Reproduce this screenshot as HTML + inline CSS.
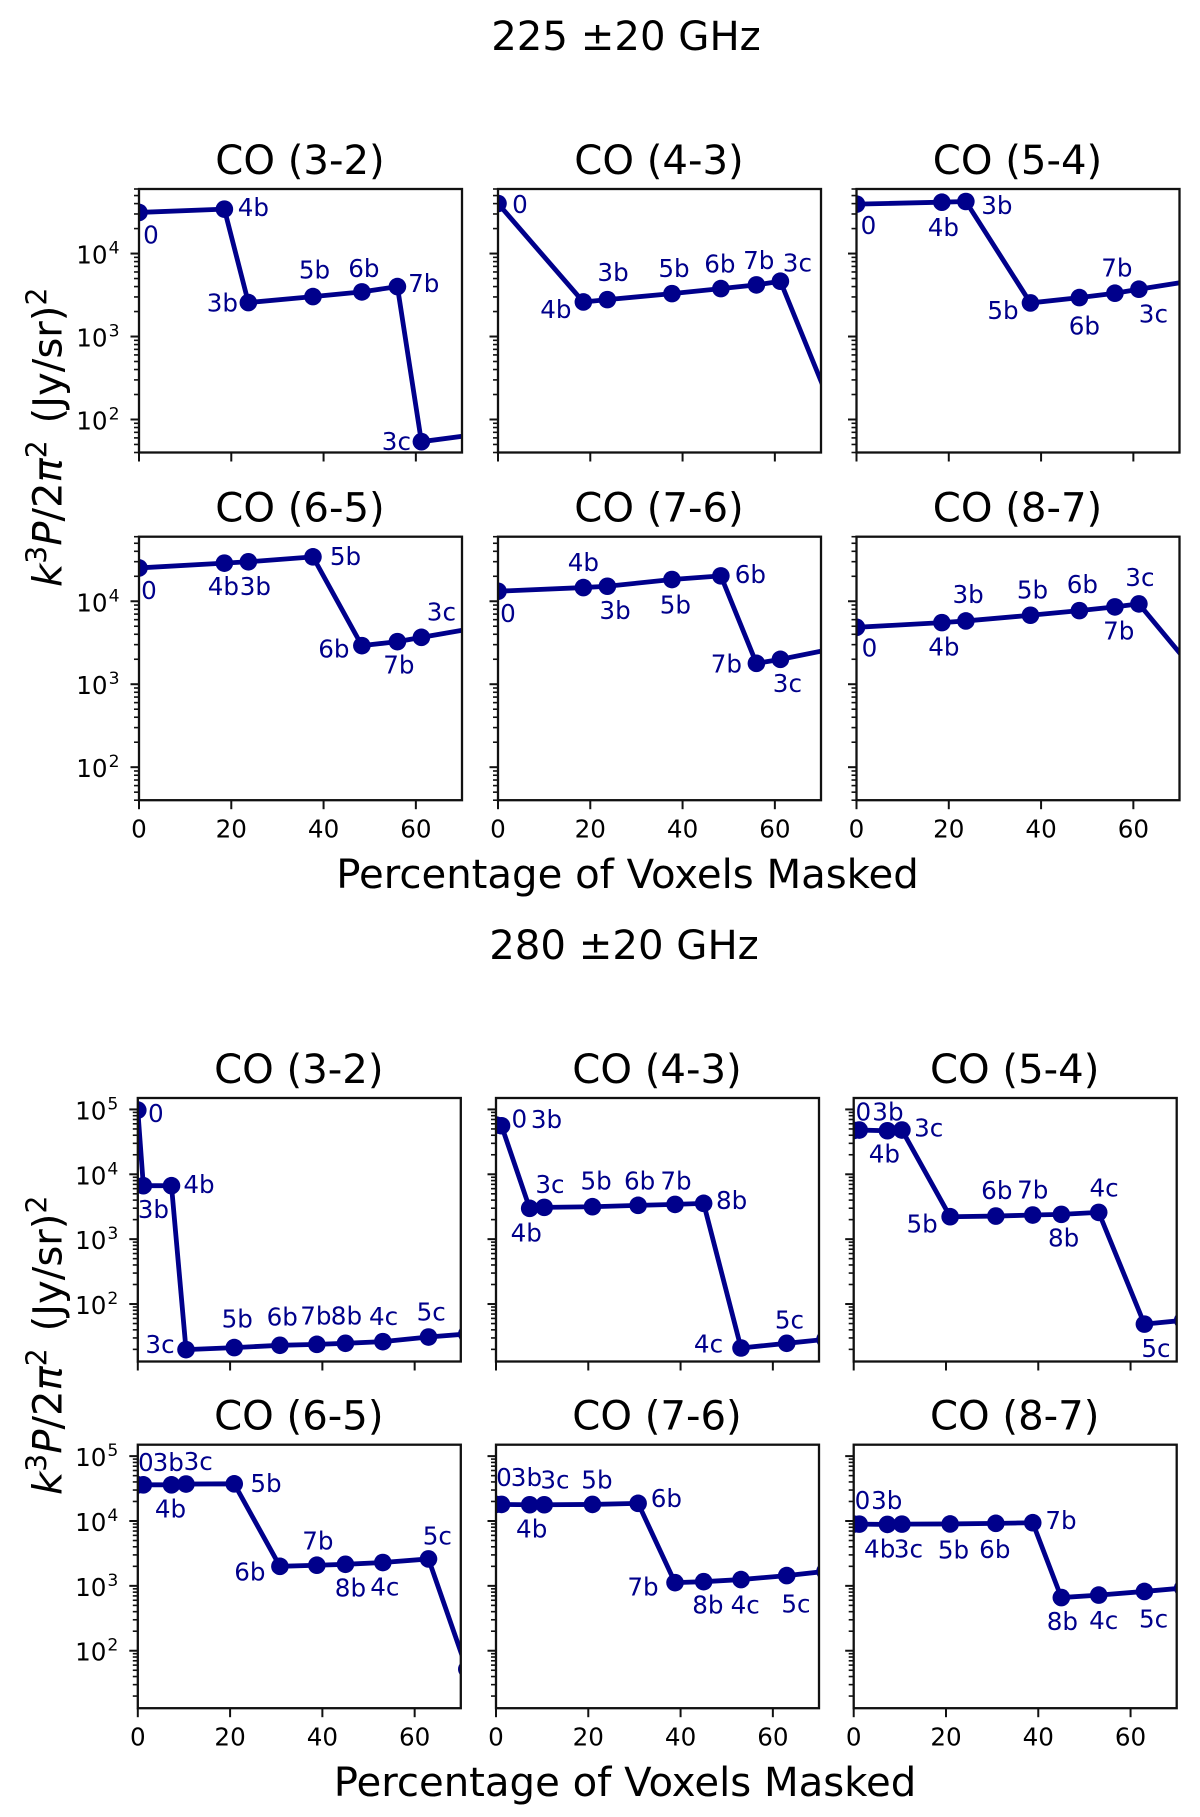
<!DOCTYPE html>
<html lang="en">
<head>
<meta charset="utf-8">
<title>CO line power spectra versus masked voxels</title>
<style>
html,body{margin:0;padding:0;background:#fff;}
svg{display:block;filter:blur(0.35px);}
text{font-family:"DejaVu Sans","Liberation Sans",sans-serif;}
</style>
</head>
<body>
<svg id="figure" xmlns="http://www.w3.org/2000/svg" width="1200" height="1817" viewBox="0 0 1200 1817">
<rect width="1200" height="1817" fill="#fff"/>
<text x="626" y="50" font-size="40.2" text-anchor="middle" fill="#000">225 ±20 GHz</text>
<text x="627.5" y="888" font-size="40.2" text-anchor="middle" fill="#000">Percentage of Voxels Masked</text>
<text transform="translate(61.5 587) rotate(-90)" font-size="40.2" fill="#000"><tspan font-style="italic">k</tspan><tspan font-size="28.2" dy="-15">3</tspan><tspan font-style="italic" dy="15">P</tspan><tspan>/2</tspan><tspan font-style="italic">π</tspan><tspan font-size="28.2" dy="-15">2</tspan><tspan dy="15" dx="4" xml:space="preserve"> (Jy/sr)</tspan><tspan font-size="28.2" dy="-15">2</tspan></text>
<text x="624" y="959" font-size="40.2" text-anchor="middle" fill="#000">280 ±20 GHz</text>
<text x="625" y="1796" font-size="40.2" text-anchor="middle" fill="#000">Percentage of Voxels Masked</text>
<text transform="translate(61.5 1495) rotate(-90)" font-size="40.2" fill="#000"><tspan font-style="italic">k</tspan><tspan font-size="28.2" dy="-15">3</tspan><tspan font-style="italic" dy="15">P</tspan><tspan>/2</tspan><tspan font-style="italic">π</tspan><tspan font-size="28.2" dy="-15">2</tspan><tspan dy="15" dx="4" xml:space="preserve"> (Jy/sr)</tspan><tspan font-size="28.2" dy="-15">2</tspan></text>
</svg>
<script>
// ---------- data ----------
const xTickValues = [0, 20, 40, 60];
const yDecades225 = [2, 3, 4];
const yDecades280 = [2, 3, 4, 5];

const labels225 = ['0', '4b', '3b', '5b', '6b', '7b', '3c'];
const percent225 = [0, 18.5, 23.7, 37.7, 48.3, 56, 61.2, 73];
const power225Co32 = [31300, 34300, 2565, 3030, 3450, 4000, 54, 66];
const power225Co43 = [40100, 2610, 2785, 3290, 3780, 4190, 4640, 113];
const power225Co54 = [39400, 41600, 42400, 2540, 2946, 3325, 3717, 4720];
const power225Co65 = [25200, 28800, 29900, 34300, 2917, 3260, 3675, 4765];
const power225Co76 = [13200, 14620, 15170, 18280, 20230, 1786, 1995, 2700];
const power225Co87 = [4853, 5525, 5790, 6780, 7710, 8550, 9290, 1510];

const labels280 = ['0', '3b', '4b', '3c', '5b', '6b', '7b', '8b', '4c', '5c'];
const percent280 = [0, 1.2, 7.3, 10.45, 20.9, 30.8, 38.8, 45, 53.1, 63, 71.3];
const power280Co32 = [97600, 6670, 6670, 19.8, 21.3, 23.1, 23.9, 24.8, 26.3, 31, 34.5];
const power280Co43 = [57400, 56000, 2985, 3090, 3162, 3320, 3435, 3565, 21, 24.8, 28.5];
const power280Co54 = [47400, 48100, 46900, 48100, 2218, 2270, 2355, 2410, 2586, 49, 56];
const power280Co65 = [36100, 36100, 36100, 37100, 37400, 2000, 2080, 2150, 2290, 2600, 52];
const power280Co76 = [18000, 18000, 17800, 17800, 18000, 18700, 1120, 1160, 1250, 1440, 1670];
const power280Co87 = [8950, 8950, 8850, 8950, 9000, 9200, 9400, 660, 720, 820, 925];

// label nudges relative to each marker (layout only, not data)
const nudge225Co32 = [[12,22],[29,-2],[-26,0],[1.5,-27],[2,-24],[26.4,-3.7],[-25,-0.7]];
const nudge225Co43 = [[22,0.7],[-27.5,7],[5.7,-27.7],[2,-25.7],[-1,-25],[2.3,-24.7],[17,-18.7]];
const nudge225Co54 = [[12,21],[1.5,24.7],[31,3.7],[-27.5,7.3],[5,27.7],[2,-25.7],[14.5,24.3]];
const nudge225Co65 = [[10,22],[-1,23],[7,24.3],[32.5,-0.7],[-28,2.7],[1.5,23],[20,-26]];
const nudge225Co76 = [[10,21.7],[0,-25.7],[7.7,23.7],[3.4,25],[29.5,-1.7],[-30,0],[7,23.7]];
const nudge225Co87 = [[13,20],[2,24],[2.3,-26.7],[2,-26],[3,-26.7],[3.8,23.7],[1,-26.7]];
const nudge280Co32 = [[18,2.7],[10,23.3],[27.5,-1.7],[-26,-5.7],[3,-29.3],[2.3,-28.7],[-1,-29],[1,-28],[0.8,-25.7],[2.7,-25.3]];
const nudge280Co43 = [[23.3,-6.7],[45,-6.7],[-3.4,24.3],[5.7,-23.3],[3.7,-26],[1.5,-24.7],[1,-24],[28,-3.3],[-32.5,-4.7],[2.7,-24]];
const nudge280Co54 = [[9.6,-19],[28.7,-18.7],[-3,22.7],[26.8,-2.7],[-28,6.7],[1,-26.3],[0,-25.7],[2.3,23],[5.4,-24.7],[11.5,24]];
const nudge280Co65 = [[8,-23],[24.9,-23],[-1,23.7],[12.2,-23],[31.8,-0.7],[-30,5],[1,-24.7],[5,23],[2,24],[8.8,-23.3]];
const nudge280Co76 = [[8,-27.3],[24.9,-27.3],[2,24],[10.7,-25.3],[4.5,-24.7],[28.3,-5.3],[-32,4],[4.2,23],[4.2,24.7],[9.2,27.7]];
const nudge280Co87 = [[8.8,-24],[27.5,-24],[-7.7,24],[6.5,24.3],[3.4,25.7],[-1,25.7],[28.3,-2.7],[1,23.3],[5,25],[9.2,27]];

const xMin = 0;
const xMax = 70;
const yMin225 = 40;
const yMax225 = 60000;
const yMin280 = 13;
const yMax280 = 150000;

const panels = [
  {id:'225-co-3-2',title:'CO (3-2)',x:139,y:189,xs:percent225,ys:power225Co32,labels:labels225,nudge:nudge225Co32,lo:yMin225,hi:yMax225,dec:yDecades225,leftCol:true,botRow:false},
  {id:'225-co-4-3',title:'CO (4-3)',x:498,y:189,xs:percent225,ys:power225Co43,labels:labels225,nudge:nudge225Co43,lo:yMin225,hi:yMax225,dec:yDecades225,leftCol:false,botRow:false},
  {id:'225-co-5-4',title:'CO (5-4)',x:856.5,y:189,xs:percent225,ys:power225Co54,labels:labels225,nudge:nudge225Co54,lo:yMin225,hi:yMax225,dec:yDecades225,leftCol:false,botRow:false},
  {id:'225-co-6-5',title:'CO (6-5)',x:139,y:536.7,xs:percent225,ys:power225Co65,labels:labels225,nudge:nudge225Co65,lo:yMin225,hi:yMax225,dec:yDecades225,leftCol:true,botRow:true},
  {id:'225-co-7-6',title:'CO (7-6)',x:498,y:536.7,xs:percent225,ys:power225Co76,labels:labels225,nudge:nudge225Co76,lo:yMin225,hi:yMax225,dec:yDecades225,leftCol:false,botRow:true},
  {id:'225-co-8-7',title:'CO (8-7)',x:856.5,y:536.7,xs:percent225,ys:power225Co87,labels:labels225,nudge:nudge225Co87,lo:yMin225,hi:yMax225,dec:yDecades225,leftCol:false,botRow:true},
  {id:'280-co-3-2',title:'CO (3-2)',x:137.8,y:1098,xs:percent280,ys:power280Co32,labels:labels280,nudge:nudge280Co32,lo:yMin280,hi:yMax280,dec:yDecades280,leftCol:true,botRow:false},
  {id:'280-co-4-3',title:'CO (4-3)',x:496,y:1098,xs:percent280,ys:power280Co43,labels:labels280,nudge:nudge280Co43,lo:yMin280,hi:yMax280,dec:yDecades280,leftCol:false,botRow:false},
  {id:'280-co-5-4',title:'CO (5-4)',x:853.7,y:1098,xs:percent280,ys:power280Co54,labels:labels280,nudge:nudge280Co54,lo:yMin280,hi:yMax280,dec:yDecades280,leftCol:false,botRow:false},
  {id:'280-co-6-5',title:'CO (6-5)',x:137.8,y:1444.7,xs:percent280,ys:power280Co65,labels:labels280,nudge:nudge280Co65,lo:yMin280,hi:yMax280,dec:yDecades280,leftCol:true,botRow:true},
  {id:'280-co-7-6',title:'CO (7-6)',x:496,y:1444.7,xs:percent280,ys:power280Co76,labels:labels280,nudge:nudge280Co76,lo:yMin280,hi:yMax280,dec:yDecades280,leftCol:false,botRow:true},
  {id:'280-co-8-7',title:'CO (8-7)',x:853.7,y:1444.7,xs:percent280,ys:power280Co87,labels:labels280,nudge:nudge280Co87,lo:yMin280,hi:yMax280,dec:yDecades280,leftCol:false,botRow:true}
];

const PANEL_W = 323;
const PANEL_H = 263.5;
const NAVY = '#00008b';
const INK = '#111';
const SVGNS = 'http://www.w3.org/2000/svg';
const svg = document.getElementById('figure');

function make(parent, tag, props) {
  const node = document.createElementNS(SVGNS, tag);
  for (const key in props) node.setAttribute(key, props[key]);
  parent.appendChild(node);
  return node;
}

panels.forEach(function (p) {
  const xScale = function (v) { return p.x + (v - xMin) / (xMax - xMin) * PANEL_W; };
  const logLo = Math.log10(p.lo);
  const logHi = Math.log10(p.hi);
  const yScale = function (v) { return p.y + PANEL_H - (Math.log10(v) - logLo) / (logHi - logLo) * PANEL_H; };

  const group = make(svg, 'g', {});
  
  

  const title = make(group, 'text', {x: p.x + PANEL_W / 2 - 0.5, y: p.y - 15, 'font-size': 40.2, 'text-anchor': 'middle', fill: '#000'});
  
  
  title.textContent = p.title;

  const clipId = 'clip-' + p.id;
  const clip = make(group, 'clipPath', {id: clipId});
  make(clip, 'rect', {x: p.x, y: p.y, width: PANEL_W, height: PANEL_H});

  // x ticks
  xTickValues.forEach(function (t) {
    const xp = xScale(t);
    const tick = make(group, 'line', {x1: xp, x2: xp, y1: p.y + PANEL_H, y2: p.y + PANEL_H + 9, stroke: INK, 'stroke-width': 2});
    
    
    if (p.botRow) {
      const lab = make(group, 'text', {x: xp, y: p.y + PANEL_H + 37.5, 'font-size': 24.6, 'text-anchor': 'middle', fill: '#000'});
      
      
      lab.textContent = String(t);
    }
  });

  // y major and minor ticks
  for (let d = Math.floor(logLo); d <= Math.ceil(logHi); d++) {
    for (let m = 1; m <= 9; m++) {
      const v = m * Math.pow(10, d);
      if (v < p.lo * 0.999 || v > p.hi * 1.001) continue;
      const yp = yScale(v);
      const tick = make(group, 'line', {x1: p.x, x2: p.x - (m === 1 ? 8.5 : 5), y1: yp, y2: yp, stroke: INK, 'stroke-width': m === 1 ? 2 : 1.6});
      
      
    }
  }
  if (p.leftCol) {
    p.dec.forEach(function (d) {
      const yp = yScale(Math.pow(10, d));
      const lab = make(group, 'text', {x: p.x - 19.5, y: yp + 10, 'font-size': 24.6, 'text-anchor': 'end', fill: '#000'});
      
      
      const base = make(lab, 'tspan', {});
      base.textContent = '10';
      const sup = make(lab, 'tspan', {'font-size': 17.2, dy: -10, dx: 1});
      sup.textContent = String(d);
    });
  }

  // series
  const marks = make(group, 'g', {'clip-path': 'url(#' + clipId + ')'});
  
  
  const pts = p.xs.map(function (v, i) { return xScale(v).toFixed(2) + ',' + yScale(p.ys[i]).toFixed(2); }).join(' ');
  const line = make(marks, 'polyline', {points: pts, fill: 'none', stroke: NAVY, 'stroke-width': 4.8, 'stroke-linejoin': 'round'});
  
  
  p.xs.forEach(function (v, i) {
    const dot = make(marks, 'circle', {cx: xScale(v), cy: yScale(p.ys[i]), r: 8.8, fill: NAVY});
    
    
  });

  // spines
  const frame = make(group, 'rect', {x: p.x, y: p.y, width: PANEL_W, height: PANEL_H, fill: 'none', stroke: INK, 'stroke-width': 2.3});
  
  

  // point annotations
  p.labels.forEach(function (txt, i) {
    const n = p.nudge[i];
    const lab = make(group, 'text', {x: xScale(p.xs[i]) + n[0], y: yScale(p.ys[i]) + n[1] + 9, 'font-size': 24.6, 'text-anchor': 'middle', fill: NAVY});
    
    
    lab.textContent = txt;
  });
});
</script>
</body>
</html>
